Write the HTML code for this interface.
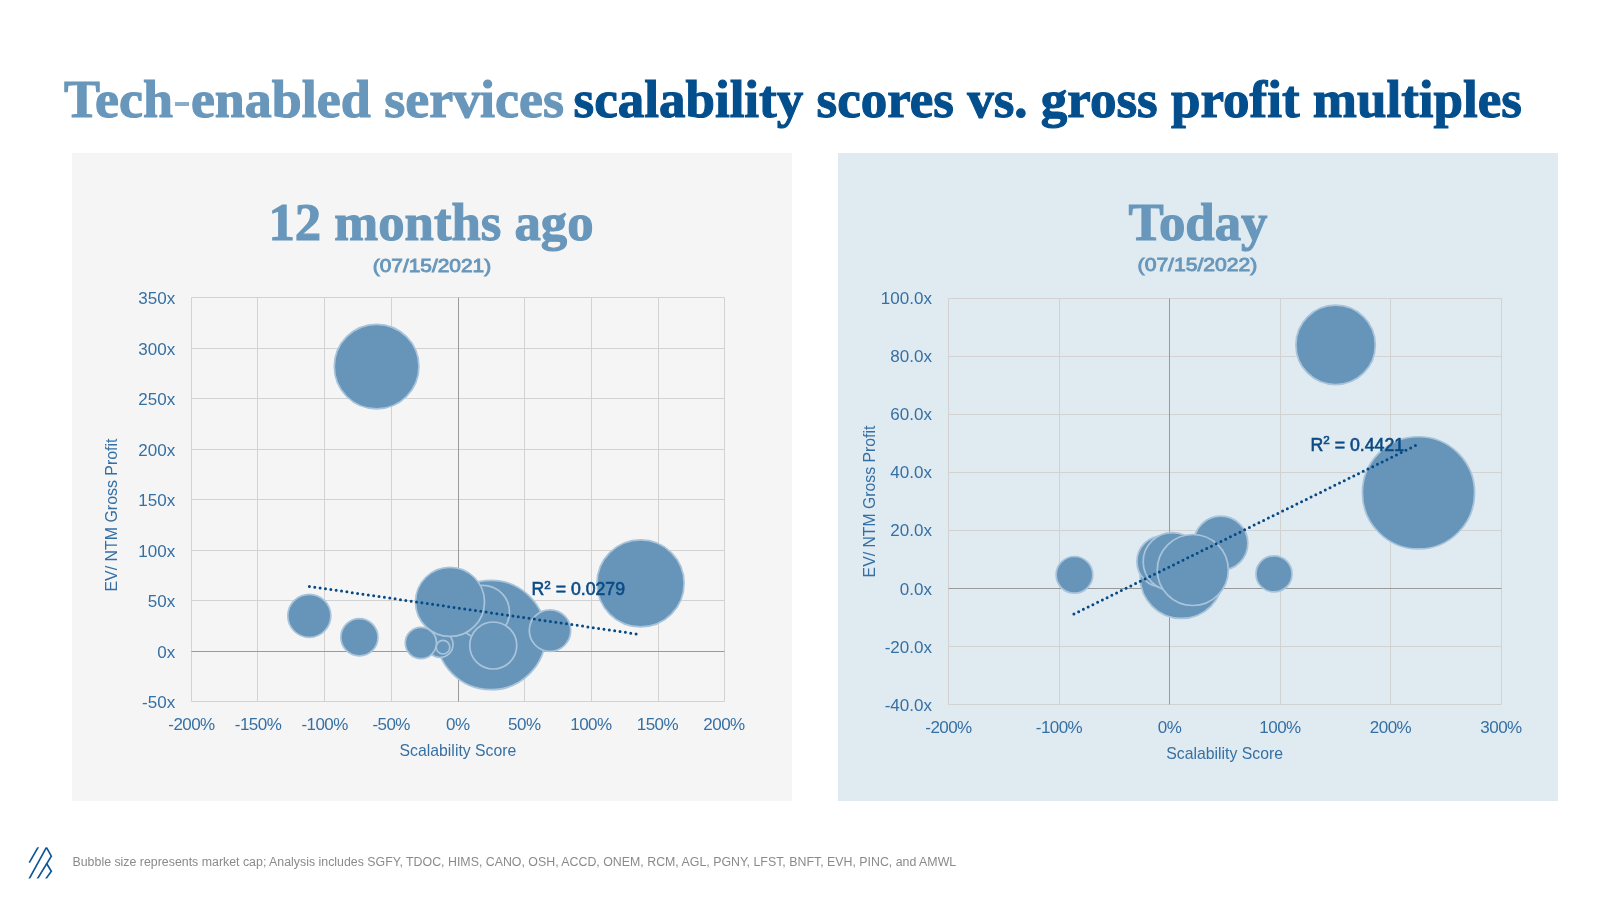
<!DOCTYPE html>
<html><head><meta charset="utf-8">
<style>
html,body{margin:0;padding:0;background:#fff;width:1600px;height:900px;overflow:hidden}
svg{display:block;will-change:transform}
.ser{font-family:"Liberation Serif",serif;font-weight:bold;stroke-width:1.1px}
.demi{font-family:"Liberation Sans",sans-serif;stroke-width:0.9px}
.sans{font-family:"Liberation Sans",sans-serif}
</style></head>
<body>
<svg width="1600" height="900" viewBox="0 0 1600 900">
<!-- Title -->
<text class="ser" x="64" y="116.5" font-size="53" fill="#6897BB" stroke="#6897BB" textLength="500" lengthAdjust="spacingAndGlyphs">Tech<tspan style="font-weight:normal;stroke-width:0" fill="#88ADCA">-</tspan>enabled services</text>
<text class="ser" x="573.5" y="116.5" font-size="53" fill="#034E8C" stroke="#034E8C" textLength="948.5" lengthAdjust="spacingAndGlyphs">scalability scores vs. gross profit multiples</text>

<!-- Panels -->
<rect x="72" y="153" width="720" height="648" fill="#F5F5F5"/>
<rect x="838" y="153" width="720" height="648" fill="#E0EAF1"/>

<!-- Panel titles -->
<text class="ser" x="268.5" y="240.2" font-size="52.5" fill="#6897BB" stroke="#6897BB" textLength="325" lengthAdjust="spacingAndGlyphs">12 months ago</text>
<text class="demi" x="372.7" y="271.5" font-size="18" fill="#6897BB" stroke="#6897BB" textLength="118.5" lengthAdjust="spacingAndGlyphs">(07/15/2021)</text>
<text class="ser" x="1128.6" y="240.2" font-size="52.5" fill="#6897BB" stroke="#6897BB" textLength="138.9" lengthAdjust="spacingAndGlyphs">Today</text>
<text class="demi" x="1137.6" y="271.2" font-size="18" fill="#6897BB" stroke="#6897BB" textLength="119.8" lengthAdjust="spacingAndGlyphs">(07/15/2022)</text>

<!-- LEFT CHART -->
<g id="lgrid" stroke="#D2D2D2" stroke-width="1" fill="none">
<path d="M191.5 297.5V701.5 M257.5 297.5V701.5 M324.5 297.5V701.5 M391.5 297.5V701.5 M524.5 297.5V701.5 M591.5 297.5V701.5 M658.5 297.5V701.5 M724.5 297.5V701.5"/>
<path d="M191.5 297.5H724.5 M191.5 348.5H724.5 M191.5 398.5H724.5 M191.5 449.5H724.5 M191.5 499.5H724.5 M191.5 550.5H724.5 M191.5 600.5H724.5 M191.5 701.5H724.5"/>
</g>
<g stroke="#9A9A9A" stroke-width="1">
<path d="M458.5 297.5V701.5 M191.5 651.5H724.5"/>
</g>

<g class="sans" font-size="17" fill="#3570A4" text-anchor="end">
<text x="175.2" y="304.0">350x</text>
<text x="175.2" y="354.5">300x</text>
<text x="175.2" y="405.0">250x</text>
<text x="175.2" y="455.5">200x</text>
<text x="175.2" y="506.0">150x</text>
<text x="175.2" y="556.5">100x</text>
<text x="175.2" y="607.0">50x</text>
<text x="175.2" y="657.5">0x</text>
<text x="175.2" y="708.0">-50x</text>
</g>
<g class="sans" font-size="17" fill="#3570A4" text-anchor="middle" letter-spacing="-0.55">
<text x="191.5" y="730.2">-200%</text>
<text x="258.06" y="730.2">-150%</text>
<text x="324.6" y="730.2">-100%</text>
<text x="391.2" y="730.2">-50%</text>
<text x="457.75" y="730.2">0%</text>
<text x="524.3" y="730.2">50%</text>
<text x="590.9" y="730.2">100%</text>
<text x="657.4" y="730.2">150%</text>
<text x="724" y="730.2">200%</text>
</g>
<text class="sans" x="399.6" y="756.2" font-size="17" fill="#3570A4" textLength="116.7" lengthAdjust="spacingAndGlyphs">Scalability Score</text>
<text class="sans" transform="translate(116.5 591.5) rotate(-90)" x="0" y="0" font-size="17" fill="#3570A4" textLength="153" lengthAdjust="spacingAndGlyphs">EV/ NTM Gross Profit</text>

<g fill="#6795B9" stroke="#A9C4DA" stroke-width="1.7">
<circle cx="376.6" cy="366.6" r="42.3"/>
<circle cx="640.55" cy="583.35" r="43.55"/>
<circle cx="491" cy="635" r="54.7"/>
<circle cx="482.8" cy="612" r="26.7"/>
<circle cx="440" cy="644.5" r="13"/>
<circle cx="450" cy="601.9" r="34.5"/>
<circle cx="493.25" cy="645.5" r="23.5"/>
<circle cx="420.9" cy="643" r="15.6"/>
<circle cx="443" cy="647.2" r="6.8"/>
<circle cx="550" cy="630.6" r="20.7"/>
<circle cx="309.3" cy="615.8" r="21.5"/>
<circle cx="359.4" cy="637.25" r="18.55"/>
</g>
<line x1="309.4" y1="586.4" x2="636.4" y2="633.95" stroke="#064A85" stroke-width="3" stroke-dasharray="0 5.4120" stroke-linecap="round"/>
<text class="demi" x="531.6" y="595.4" font-size="17.5" fill="#0B4B85" stroke="#0B4B85" style="stroke-width:0.6px" textLength="93.4" lengthAdjust="spacingAndGlyphs">R<tspan dy="-6.2" font-size="11.5">2</tspan><tspan dy="6.2"> = 0.0279</tspan></text>

<!-- RIGHT CHART -->
<g stroke="#D2D2D2" stroke-width="1" fill="none">
<path d="M948.5 298.5V704.5 M1059.5 298.5V704.5 M1280.5 298.5V704.5 M1390.5 298.5V704.5 M1501.5 298.5V704.5"/>
<path d="M948.5 298.5H1501.5 M948.5 356.5H1501.5 M948.5 414.5H1501.5 M948.5 472.5H1501.5 M948.5 530.5H1501.5 M948.5 646.5H1501.5 M948.5 704.5H1501.5"/>
</g>
<g stroke="#9A9A9A" stroke-width="1">
<path d="M1169.5 298.5V704.5 M948.5 588.5H1501.5"/>
</g>
<g class="sans" font-size="17" fill="#3570A4" text-anchor="end">
<text x="931.9" y="304.0">100.0x</text>
<text x="931.9" y="362.1">80.0x</text>
<text x="931.9" y="420.2">60.0x</text>
<text x="931.9" y="478.3">40.0x</text>
<text x="931.9" y="536.4">20.0x</text>
<text x="931.9" y="594.5">0.0x</text>
<text x="931.9" y="652.7">-20.0x</text>
<text x="931.9" y="710.8">-40.0x</text>
</g>
<g class="sans" font-size="17" fill="#3570A4" text-anchor="middle" letter-spacing="-0.55">
<text x="948.5" y="733.3">-200%</text>
<text x="1059" y="733.3">-100%</text>
<text x="1169.5" y="733.3">0%</text>
<text x="1280" y="733.3">100%</text>
<text x="1390.5" y="733.3">200%</text>
<text x="1501" y="733.3">300%</text>
</g>
<text class="sans" x="1166.3" y="758.7" font-size="17" fill="#3570A4" textLength="116.7" lengthAdjust="spacingAndGlyphs">Scalability Score</text>
<text class="sans" transform="translate(875.2 577.4) rotate(-90)" x="0" y="0" font-size="17" fill="#3570A4" textLength="151.7" lengthAdjust="spacingAndGlyphs">EV/ NTM Gross Profit</text>

<g fill="#6795B9" stroke="#A9C4DA" stroke-width="1.7">
<circle cx="1335.6" cy="344.9" r="39.7"/>
<circle cx="1418.5" cy="492.85" r="56.1"/>
<circle cx="1074.45" cy="574.85" r="18.35"/>
<circle cx="1274" cy="573.9" r="18.05"/>
<circle cx="1181.5" cy="577" r="41.4"/>
<circle cx="1220.8" cy="543.2" r="27"/>
<circle cx="1162.5" cy="561.5" r="25.6"/>
<circle cx="1172.2" cy="561.7" r="29"/>
<circle cx="1192.8" cy="570" r="35.5"/>
</g>
<line x1="1073.9" y1="614" x2="1415.7" y2="445.45" stroke="#064A85" stroke-width="3" stroke-dasharray="0 5.2884" stroke-linecap="round"/>
<text class="demi" x="1310.5" y="450.6" font-size="17.5" fill="#0B4B85" stroke="#0B4B85" style="stroke-width:0.6px" textLength="93.6" lengthAdjust="spacingAndGlyphs">R<tspan dy="-6.2" font-size="11.5">2</tspan><tspan dy="6.2"> = 0.4421</tspan></text>

<!-- Footer -->
<clipPath id="lc"><rect x="20" y="847.2" width="40" height="31.2"/></clipPath>
<g fill="none" stroke="#0C5698" stroke-width="1.65" stroke-linejoin="miter" clip-path="url(#lc)">
<path d="M38.6 846.4L29.3 862.7"/>
<path d="M29 879.2L46.44 847.4L51.33 856.2L37.2 879.2"/>
<path d="M46.44 863.3L51.33 871.3L45.6 879.2"/>
</g>
<text class="sans" x="72.5" y="865.6" font-size="12.5" fill="#8A8A8A" textLength="883.7" lengthAdjust="spacingAndGlyphs">Bubble size represents market cap; Analysis includes SGFY, TDOC, HIMS, CANO, OSH, ACCD, ONEM, RCM, AGL, PGNY, LFST, BNFT, EVH, PINC, and AMWL</text>
</svg>
</body></html>
